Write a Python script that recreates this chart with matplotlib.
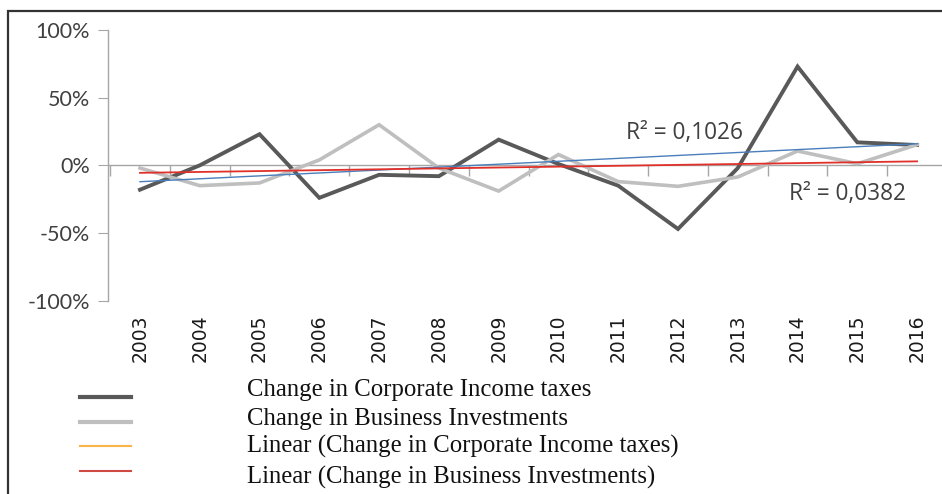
import matplotlib
matplotlib.use("Agg")
import matplotlib.pyplot as plt
from matplotlib.lines import Line2D
from matplotlib.patches import Rectangle
import matplotlib.markers as mmarkers
import numpy as np

# ---- data ----
years = ["2003", "2004", "2005", "2006", "2007", "2008", "2009",
         "2010", "2011", "2012", "2013", "2014", "2015", "2016"]
corporate = [-18, 0, 23, -24, -7, -8, 19, 1, -15, -47, -2, 73, 17, 15]
business = [-2, -15, -13, 4, 30, -2, -19, 8, -12, -15.5, -8.6, 10.6, 1.2, 15.3]
y_ticks = [-100, -50, 0, 50, 100]
y_tick_labels = ["-100%", "-50%", "0%", "50%", "100%"]
r2_corporate_label = "R² = 0,1026"
r2_business_label = "R² = 0,0382"
legend_labels = ["Change in Corporate Income taxes",
                 "Change in Business Investments",
                 "Linear (Change in Corporate Income taxes)",
                 "Linear (Change in Business Investments)"]

# ---- styles ----
C_CORP = "#595959"
C_BUS = "#bfbfbf"
C_TREND_CORP = "#4a7ebb"
C_TREND_BUS = "#e0302a"
C_LEG_TREND_CORP = "#f9b54a"
C_LEG_TREND_BUS = "#d04a45"
C_AXIS = "#a6a6a6"

W, H = 942, 494
fig = plt.figure(figsize=(W / 100, H / 100), dpi=100)


def fx(px):
    return px / W


def fy(py):
    return 1 - py / H


left, right, top, bottom = 108, 947, 30, 300.7
ax = fig.add_axes([fx(left), fy(bottom), fx(right) - fx(left), fy(top) - fy(bottom)])
x = np.arange(len(years))
ax.set_xlim(-0.535, len(years) - 0.5)
ax.set_ylim(-100, 100)

for s in ["top", "right", "bottom"]:
    ax.spines[s].set_visible(False)
ax.spines["left"].set_color(C_AXIS)
ax.spines["left"].set_linewidth(1.0)

ax.set_yticks(y_ticks)
ax.set_yticklabels(y_tick_labels, family="Lato", fontsize=15.5, color="#404040")
ax.tick_params(axis="y", direction="out", length=7, color=C_AXIS, pad=6)

ax.set_xticks(x)
ax.set_xticklabels(years, rotation=90, family="DejaVu Sans", fontsize=13.5,
                   color="#1a1a1a")
ax.tick_params(axis="x", length=0, pad=10)

# horizontal axis at zero with category boundary ticks
ax.axhline(0, color=C_AXIS, lw=1.0, zorder=1)
bounds = np.arange(len(years) + 1) - 0.5
ax.plot(bounds, np.zeros_like(bounds), linestyle="none",
        marker=mmarkers.TICKDOWN, markersize=8, markeredgewidth=1.0,
        color=C_AXIS, zorder=1, clip_on=False)

# series
ax.plot(x, corporate, color=C_CORP, lw=2.8, zorder=2, solid_joinstyle="miter")
ax.plot(x, business, color=C_BUS, lw=2.6, zorder=2.1, solid_joinstyle="miter")

# linear trendlines
pc = np.polyfit(x, corporate, 1)
pb = np.polyfit(x, business, 1)
ax.plot(x, np.polyval(pc, x), color=C_TREND_CORP, lw=1.0, zorder=3)
ax.plot(x, np.polyval(pb, x), color=C_TREND_BUS, lw=1.3, zorder=3)

fig.text(fx(626), fy(133), r2_corporate_label, family="Open Sans", fontsize=16.3,
         color="#404040", ha="left", va="center")
fig.text(fx(789), fy(194), r2_business_label, family="Open Sans", fontsize=16.3,
         color="#404040", ha="left", va="center")

# legend (manual)
leg_line_y = [396.5, 422, 446, 470.5]
leg_text_y = [390, 419, 446.5, 477]
leg_colors = [C_CORP, C_BUS, C_LEG_TREND_CORP, C_LEG_TREND_BUS]
leg_lw = [3.0, 3.0, 1.5, 1.5]
for ly, ty, c, lw, lab in zip(leg_line_y, leg_text_y, leg_colors, leg_lw, legend_labels):
    fig.add_artist(Line2D([fx(80), fx(131)], [fy(ly), fy(ly)], color=c, lw=lw,
                          transform=fig.transFigure))
    fig.text(fx(247), fy(ty), lab, family="Liberation Serif", fontsize=17.8,
             color="#111111", ha="left", va="center")

# outer frame
fig.add_artist(Rectangle((fx(7.5), fy(600)), fx(1100), fy(11) - fy(600),
                         transform=fig.transFigure, fill=False,
                         edgecolor="#333333", lw=1.6))

fig.savefig("out.png", dpi=100)
